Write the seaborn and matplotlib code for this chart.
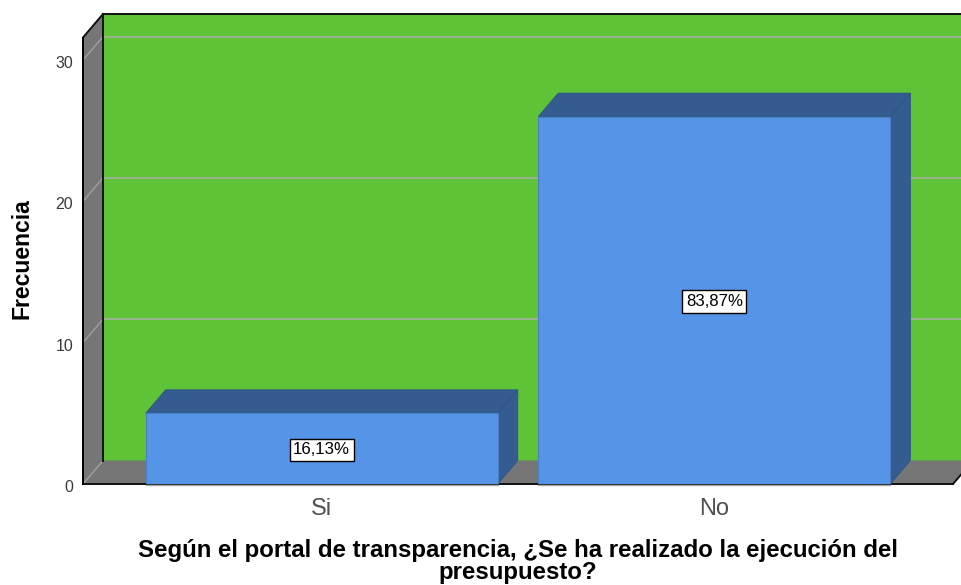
import matplotlib
matplotlib.use("Agg")
import matplotlib.pyplot as plt
from matplotlib.patches import Polygon
from matplotlib.transforms import Affine2D
import pandas as pd
import seaborn as sns

categorias = ["Si", "No"]
frecuencias = [5, 26]
porcentajes = ["16,13%", "83,87%"]
ticks_y = [0, 10, 20, 30]

VERDE = "#5EC337"
GRIS = "#767676"
AZUL = "#5594E6"
AZUL_OSC = "#345C90"
REJILLA = "#A6B0A0"
W, H = 961, 585
DX, DY = 20, 23.5  # profundidad del efecto 3D, en pixeles

sns.set_theme(style="white")
plt.rcParams["font.family"] = ["Liberation Sans", "DejaVu Sans"]

fig = plt.figure(figsize=(W / 100, H / 100), dpi=100)
ax = fig.add_axes([83 / W, (H - 484) / H, 870 / W, 446.5 / H])

data = pd.DataFrame({"cat": categorias, "frec": frecuencias})
sns.barplot(data=data, x="cat", y="frec", color=AZUL, saturation=1, width=0.897,
            edgecolor="#4A7FC4", linewidth=0.8, zorder=6, ax=ax)
ax.set_ylim(0, 31.6)
ax.set_xlim(-0.608, 1.608)
ax.set_yticks(ticks_y)
ax.tick_params(axis="y", length=0, pad=7, labelsize=11.5, labelcolor="#3a3a3a")
ax.tick_params(axis="x", length=0, pad=10, labelsize=17, labelcolor="#505050")
for etiqueta in ax.get_yticklabels():
    etiqueta.set_transform(etiqueta.get_transform() + Affine2D().translate(0, -2))
for lado in ["top", "right", "bottom"]:
    ax.spines[lado].set_visible(False)
ax.spines["left"].set_color("black")
ax.spines["left"].set_linewidth(1.4)
ax.spines["left"].set_zorder(5)

x0, x1 = ax.get_xlim()
y0, y1 = ax.get_ylim()
to_px = ax.transData.transform


def frente(x, y):
    return tuple(to_px((x, y)))


def atras(x, y):
    px, py = to_px((x, y))
    return (px + DX, py + DY)


def cara(puntos, color, z, ec="none", lw=0):
    ax.add_patch(Polygon(puntos, closed=True, fc=color, ec=ec, lw=lw, zorder=z,
                         transform=None, clip_on=False))


# pared del fondo, piso y pared izquierda
cara([atras(x0, y0), atras(x1, y0), atras(x1, y1), atras(x0, y1)], VERDE, 0)
cara([frente(x0, y0), frente(x1, y0), atras(x1, y0), atras(x0, y0)], GRIS, 1)
cara([frente(x0, y0), atras(x0, y0), atras(x0, y1), frente(x0, y1)], GRIS, 1)

for t in ticks_y:
    a, b, c = frente(x0, t), atras(x0, t), atras(x1, t)
    ax.plot([a[0], b[0]], [a[1], b[1]], color="#A0A0A0", lw=1, transform=None, clip_on=False, zorder=2)
    if t > 0:
        ax.plot([b[0], c[0]], [b[1], c[1]], color=REJILLA, lw=1.2, transform=None, clip_on=False, zorder=2)

# bordes negros
for p, q in [(atras(x0, y0), atras(x0, y1)), (atras(x0, y1), atras(x1, y1)),
             (frente(x0, y1), atras(x0, y1)), (frente(x0, y0), frente(x1, y0)),
             (frente(x1, y0), atras(x1, y0))]:
    ax.plot([p[0], q[0]], [p[1], q[1]], color="#111111", lw=1.4, transform=None,
            clip_on=False, zorder=3, solid_capstyle="projecting")

# caras superior y lateral de cada barra
for barra in ax.patches:
    if not hasattr(barra, "get_height") or barra.get_height() == 0:
        continue
    xa, xb = barra.get_x(), barra.get_x() + barra.get_width()
    h = barra.get_height()
    cara([frente(xa, h), frente(xb, h), atras(xb, h), atras(xa, h)], AZUL_OSC, 4, "#2F5486", 0.6)
    cara([frente(xb, 0), frente(xb, h), atras(xb, h), atras(xb, 0)], AZUL_OSC, 4, "#2F5486", 0.6)
    base_a, base_b = frente(xa, 0), frente(xb, 0)
    ax.plot([base_a[0], base_b[0]], [base_a[1] - 1, base_b[1] - 1], color="#A8A8A8", lw=1,
            transform=None, clip_on=False, zorder=7)

textos = ax.bar_label(ax.containers[0], labels=porcentajes, label_type="center", fontsize=12.1,
                      color="black", zorder=8,
                      bbox=dict(boxstyle="square,pad=0.22", fc="white", ec="black", lw=1))
for texto in textos:
    texto.xyann = (0, -0.8)

ax.set_ylabel("Frecuencia", fontsize=16.6, fontweight="bold", color="black")
ax.yaxis.set_label_coords((34 - 83) / 870, (484 - 259) / 446.5)
ax.set_xlabel("Según el portal de transparencia, ¿Se ha realizado la ejecución del\npresupuesto?",
              fontsize=17.3, fontweight="bold", color="black", linespacing=0.93)
ax.xaxis.set_label_coords(0.5, (484 - 539.5) / 446.5)

fig.savefig("out.png", dpi=100, facecolor="white")
